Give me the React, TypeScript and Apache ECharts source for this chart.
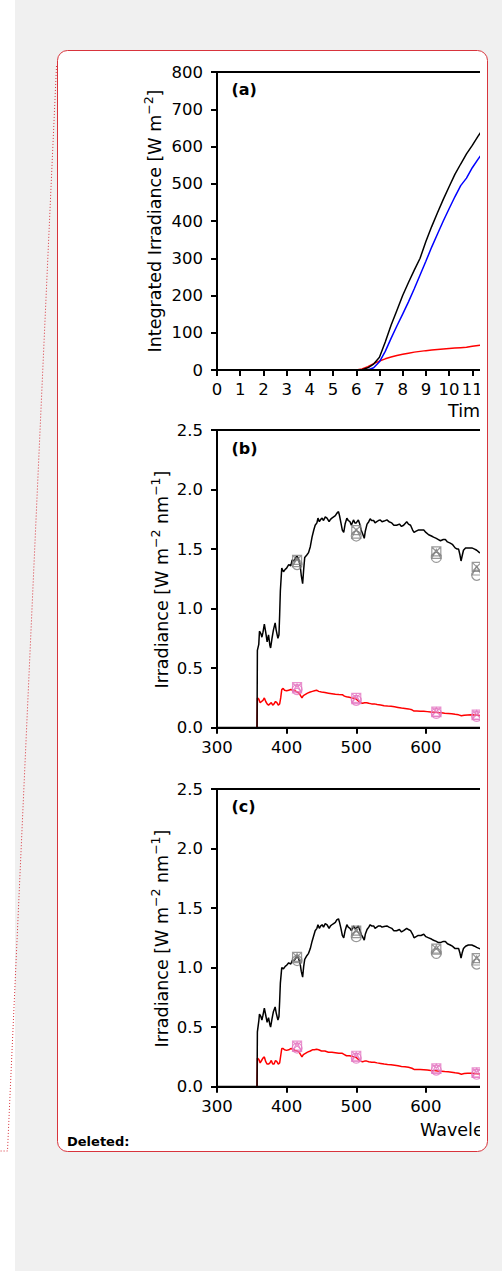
import React, { useEffect, useRef } from "react";
import * as echarts from "echarts";

const FONT = "DejaVu Sans";
const RED_EDGE = "#d8343c";

// (a) integrated irradiance over the day
const hours = [0, 1, 2, 3, 4, 5, 6, 6.25, 6.5, 6.75, 7, 7.25, 7.5, 7.75, 8, 8.25, 8.5, 8.75, 9, 9.25, 9.5, 9.75, 10, 10.25, 10.5, 10.75, 11, 11.25, 11.5, 11.75];
const integBlack = [0, 0, 0, 0, 0, 0, 0, 1, 6, 16, 34, 75, 120, 160, 200, 235, 268, 300, 345, 385, 422, 458, 492, 525, 553, 580, 603, 628, 650, 672];
const integBlue = [0, 0, 0, 0, 0, 0, 0, 0, 0, 6, 22, 50, 85, 118, 150, 183, 218, 255, 292, 330, 365, 400, 433, 465, 495, 515, 543, 566, 588, 610];
const integRed = [0, 0, 0, 0, 0, 0, 0, 3, 9, 17, 24, 30, 35, 39, 42, 45, 48, 50, 52, 53.5, 55, 56.5, 58, 59, 60, 61, 64, 66, 67, 69];

// (b), (c) spectral irradiance, black curves
const wlBlack = [
  357.5, 358, 360, 361, 363, 364.5, 366, 368, 370, 372,
  374, 376, 377, 379, 381, 383.5, 385, 387.5, 389, 390,
  391, 393, 395.5, 398, 400, 403, 406, 408, 411, 413,
  415, 417, 419.5, 421, 423, 424.5, 426, 429, 431.5, 434,
  436.5, 439, 441, 443.5, 445, 447, 449, 451, 453, 455.5,
  458, 461, 463, 465, 467.5, 470, 472, 474.5, 476, 478,
  480, 482, 484, 486.5, 488.5, 491, 493, 496, 498, 500,
  503, 505, 507, 509, 511.5, 513, 515.5, 518, 520, 522,
  525, 527, 529.5, 532, 534.5, 537, 540, 544, 547, 551,
  554, 558, 562, 565, 568, 572.5, 575, 578, 581, 583,
  586, 589, 593, 597, 600, 604, 608, 611, 615, 618,
  621, 625, 628, 631, 635, 638, 642, 645, 647, 649,
  650.5, 652, 654, 657, 661, 666, 670, 673, 677, 682,
  688,
];
const specBlackB = [
  0, 0.65, 0.7, 0.81, 0.79, 0.76, 0.8, 0.87, 0.8, 0.72,
  0.78, 0.69, 0.67, 0.75, 0.82, 0.88, 0.82, 0.75, 0.78, 0.95,
  1.15, 1.34, 1.31, 1.33, 1.34, 1.37, 1.36, 1.41, 1.4, 1.43,
  1.44, 1.42, 1.36, 1.28, 1.21, 1.33, 1.43, 1.45, 1.47, 1.52,
  1.6, 1.66, 1.7, 1.72, 1.76, 1.73, 1.75, 1.76, 1.74, 1.77,
  1.76, 1.73, 1.75, 1.76, 1.77, 1.78, 1.8, 1.815, 1.78, 1.72,
  1.66, 1.64, 1.71, 1.76, 1.74, 1.73, 1.7, 1.745, 1.72, 1.72,
  1.745, 1.71, 1.66, 1.63, 1.59, 1.65, 1.71, 1.73, 1.755, 1.74,
  1.74, 1.72, 1.73, 1.74, 1.745, 1.73, 1.735, 1.745, 1.73, 1.72,
  1.7, 1.7, 1.71, 1.69, 1.7, 1.73, 1.71, 1.7, 1.66, 1.64,
  1.65, 1.66, 1.66, 1.66, 1.64, 1.62, 1.61, 1.6, 1.59, 1.58,
  1.57, 1.58, 1.58, 1.56, 1.55, 1.54, 1.51, 1.5, 1.5, 1.45,
  1.4, 1.44, 1.49, 1.51, 1.51, 1.51, 1.5, 1.49, 1.47, 1.46,
  1.45,
];
const specBlackC = [
  0, 0.46, 0.55, 0.61, 0.59, 0.56, 0.6, 0.66, 0.6, 0.54,
  0.58, 0.52, 0.5, 0.57, 0.63, 0.67, 0.62, 0.56, 0.59, 0.72,
  0.87, 1.0, 0.99, 1.01, 1.02, 1.04, 1.03, 1.06, 1.06, 1.08,
  1.09, 1.08, 1.03, 0.97, 0.92, 1.01, 1.07, 1.1, 1.12, 1.16,
  1.22, 1.27, 1.31, 1.33, 1.36, 1.33, 1.35, 1.36, 1.34, 1.37,
  1.36, 1.33, 1.35, 1.36, 1.37, 1.38, 1.4, 1.41, 1.38, 1.33,
  1.27, 1.25, 1.31, 1.36, 1.34, 1.33, 1.31, 1.35, 1.33, 1.33,
  1.35, 1.32, 1.28, 1.26, 1.23, 1.28, 1.32, 1.34, 1.36, 1.35,
  1.35, 1.33, 1.34, 1.35, 1.35, 1.34, 1.345, 1.35, 1.34, 1.33,
  1.31, 1.31, 1.32, 1.3, 1.31, 1.33, 1.32, 1.31, 1.28, 1.25,
  1.26, 1.27, 1.27, 1.28, 1.26, 1.25, 1.24, 1.23, 1.22, 1.21,
  1.21, 1.22, 1.22, 1.2, 1.19, 1.18, 1.16, 1.16, 1.16, 1.12,
  1.08, 1.12, 1.16, 1.18, 1.19, 1.19, 1.18, 1.17, 1.16, 1.15,
  1.14,
];

// (b), (c) spectral irradiance, red curves
const wlRed = [
  357.5, 358, 360, 362, 364, 366, 368, 370, 372, 374,
  376, 378, 380, 382, 384, 386, 388, 390, 391.5, 393,
  395, 397, 400, 403, 406, 409, 412, 415, 418, 420,
  422, 424, 427, 430, 434, 437, 440, 443, 446, 450,
  455, 460, 465, 470, 475, 480, 483, 486, 490, 494,
  497, 500, 503, 506, 509, 512, 515, 518, 522, 526,
  530, 535, 540, 545, 550, 555, 560, 565, 570, 575,
  580, 583, 587, 592, 597, 602, 607, 612, 617, 622,
  627, 632, 637, 642, 647, 651, 655, 660, 665, 670,
  675, 680, 686,
];
const specRedB = [
  0, 0.25, 0.24, 0.21, 0.22, 0.23, 0.25, 0.22, 0.2, 0.19,
  0.2, 0.21, 0.19, 0.2, 0.22, 0.21, 0.19, 0.2, 0.25, 0.32,
  0.33, 0.315, 0.31, 0.315, 0.32, 0.315, 0.31, 0.3, 0.29, 0.27,
  0.25, 0.27, 0.28, 0.29, 0.3, 0.305, 0.31, 0.315, 0.305, 0.3,
  0.295, 0.29, 0.285, 0.28, 0.278, 0.277, 0.265, 0.26, 0.255, 0.25,
  0.248, 0.24, 0.225, 0.21, 0.205, 0.21, 0.21, 0.205, 0.2, 0.2,
  0.195, 0.19, 0.185, 0.182, 0.18, 0.175, 0.17, 0.165, 0.162, 0.158,
  0.15, 0.14, 0.14, 0.139, 0.138, 0.135, 0.132, 0.13, 0.127, 0.125,
  0.122, 0.12, 0.117, 0.112, 0.108, 0.1, 0.105, 0.107, 0.108, 0.106,
  0.104, 0.103, 0.102,
];
const specRedC = [
  0, 0.24, 0.23, 0.2, 0.22, 0.24, 0.25, 0.21, 0.19, 0.19,
  0.2, 0.22, 0.19, 0.19, 0.22, 0.21, 0.19, 0.2, 0.26, 0.32,
  0.32, 0.31, 0.305, 0.31, 0.32, 0.315, 0.305, 0.3, 0.29, 0.27,
  0.25, 0.27, 0.28, 0.29, 0.3, 0.31, 0.31, 0.315, 0.31, 0.3,
  0.3, 0.29, 0.29, 0.285, 0.28, 0.28, 0.27, 0.26, 0.26, 0.255,
  0.25, 0.245, 0.23, 0.215, 0.21, 0.215, 0.215, 0.21, 0.205, 0.205,
  0.2, 0.195, 0.19, 0.187, 0.185, 0.18, 0.175, 0.17, 0.167, 0.163,
  0.155, 0.145, 0.145, 0.144, 0.143, 0.14, 0.137, 0.135, 0.132, 0.13,
  0.127, 0.125, 0.122, 0.117, 0.113, 0.105, 0.11, 0.112, 0.112, 0.11,
  0.108, 0.107, 0.106,
];

// filter-radiometer channels
const filterWl = [415, 500, 615, 673];
const grayCircleB = [1.37, 1.61, 1.43, 1.28];
const grayTriB = [1.39, 1.63, 1.46, 1.32];
const graySqB = [1.41, 1.66, 1.48, 1.35];
const pinkCircleB = [0.32, 0.23, 0.12, 0.095];
const pinkTriB = [0.33, 0.24, 0.13, 0.105];
const pinkSqB = [0.34, 0.25, 0.135, 0.11];
const grayCircleC = [1.06, 1.26, 1.12, 1.03];
const grayTriC = [1.08, 1.29, 1.15, 1.06];
const graySqC = [1.09, 1.31, 1.16, 1.08];
const pinkCircleC = [0.325, 0.24, 0.14, 0.105];
const pinkTriC = [0.335, 0.25, 0.15, 0.115];
const pinkSqC = [0.345, 0.26, 0.155, 0.12];

const hourTicks = { min: 0, max: 24, interval: 1 };
const wlTicks = { min: 300, max: 1100, interval: 100 };
const integTicks = { min: 0, max: 800, interval: 100 };
const specTicks = { min: 0, max: 2.5, interval: 0.5 };

const GRAY = "#7f7f7f";
const PINK = "#e377c2";
const SQ_X = "path://M0 0H10V10H0ZM0 0L10 10M10 0L0 10";

const zip = (xs: number[], ys: number[]) => xs.map((x, i) => [x, ys[i]]);

const tickFont = { fontFamily: FONT, fontSize: 16.5, color: "#000" };
const LABEL_SIZE = 17.5;

function xAxisOf(ticks: any, gridIndex: number) {
  return {
    type: "value",
    gridIndex,
    ...ticks,
    z: 6,
    axisLine: { show: true, onZero: false, lineStyle: { color: "#000", width: 2 } },
    axisTick: { show: true, length: 6, lineStyle: { color: "#000", width: 2 } },
    axisLabel: { ...tickFont, margin: 11 },
    splitLine: { show: false },
  };
}

function yAxisOf(ticks: any, gridIndex: number, decimals: number) {
  return {
    type: "value",
    gridIndex,
    ...ticks,
    z: 6,
    axisLine: { show: true, onZero: false, lineStyle: { color: "#000", width: 2 } },
    axisTick: { show: true, length: 6, lineStyle: { color: "#000", width: 2 } },
    axisLabel: { ...tickFont, margin: 14, formatter: (v: number) => v.toFixed(decimals) },
    splitLine: { show: false },
  };
}

function lineSeries(data: number[][], color: string, idx: number) {
  return {
    type: "line",
    xAxisIndex: idx,
    yAxisIndex: idx,
    data,
    symbol: "none",
    showSymbol: false,
    silent: true,
    clip: true,
    lineStyle: { color, width: 1.5 },
    itemStyle: { color },
    z: 3,
  };
}

function markSeries(ys: number[], symbol: string, color: string, idx: number, size: number) {
  return {
    type: "scatter",
    xAxisIndex: idx,
    yAxisIndex: idx,
    data: zip(filterWl, ys),
    symbol,
    symbolSize: size,
    silent: true,
    itemStyle: { color: "rgba(0,0,0,0)", borderColor: color, borderWidth: 1.2 },
    z: 4,
  };
}

const GRID_H = 297.7;
const grids = [
  { left: 159, top: 21, width: 557, height: 298 },
  { left: 159, top: 379, width: 557, height: GRID_H },
  { left: 159, top: 738, width: 557, height: GRID_H },
].map((g) => ({ ...g, show: true, borderColor: "#000", borderWidth: 2, backgroundColor: "transparent" }));

const panelLabel = (text: string, y: number) => ({
  type: "text",
  x: 173.5,
  y,
  silent: true,
  style: { text, fontFamily: FONT, fontSize: 16, fontWeight: "bold", fill: "#000", verticalAlign: "middle", align: "left" },
});

const xName = (text: string, x: number, y: number) => ({
  type: "text",
  x,
  y,
  silent: true,
  style: { text, fontFamily: FONT, fontSize: LABEL_SIZE, fill: "#000", verticalAlign: "middle", align: "left" },
});

// rotated y-axis title with raised exponents
const supRich = {
  n: { fontFamily: FONT, fontSize: LABEL_SIZE, fill: "#000", verticalAlign: "bottom", padding: [4, 0, 0, 0] },
  s: { fontFamily: FONT, fontSize: 12.5, fill: "#000", verticalAlign: "top" },
};
const yName = (text: string, x: number, y: number) => ({
  type: "text",
  x,
  y,
  rotation: Math.PI / 2,
  silent: true,
  style: { text, rich: supRich, fill: "#000", align: "center", verticalAlign: "middle" },
});

const chartOption = {
  animation: false,
  grid: grids,
  xAxis: [xAxisOf(hourTicks, 0), xAxisOf(wlTicks, 1), xAxisOf(wlTicks, 2)],
  yAxis: [yAxisOf(integTicks, 0, 0), yAxisOf(specTicks, 1, 1), yAxisOf(specTicks, 2, 1)],
  series: [
    lineSeries(zip(hours, integRed), "#ff0000", 0),
    lineSeries(zip(hours, integBlue), "#0000ff", 0),
    lineSeries(zip(hours, integBlack), "#000000", 0),

    lineSeries(zip(wlRed, specRedB), "#ff0000", 1),
    lineSeries(zip(wlBlack, specBlackB), "#000000", 1),
    markSeries(grayCircleB, "circle", GRAY, 1, 10),
    markSeries(grayTriB, "triangle", GRAY, 1, 9),
    markSeries(graySqB, SQ_X, GRAY, 1, 9),
    markSeries(pinkCircleB, "circle", PINK, 1, 10),
    markSeries(pinkTriB, "triangle", PINK, 1, 9),
    markSeries(pinkSqB, SQ_X, PINK, 1, 9),

    lineSeries(zip(wlRed, specRedC), "#ff0000", 2),
    lineSeries(zip(wlBlack, specBlackC), "#000000", 2),
    markSeries(grayCircleC, "circle", GRAY, 2, 10),
    markSeries(grayTriC, "triangle", GRAY, 2, 9),
    markSeries(graySqC, SQ_X, GRAY, 2, 9),
    markSeries(pinkCircleC, "circle", PINK, 2, 10),
    markSeries(pinkTriC, "triangle", PINK, 2, 9),
    markSeries(pinkSqC, SQ_X, PINK, 2, 9),
  ],
  graphic: [
    panelLabel("(a)", 38.5),
    panelLabel("(b)", 397),
    panelLabel("(c)", 755),
    xName("Time [UTC]", 390, 359.5),
    xName("Wavelength [nm]", 362, 1078.7),
    yName("{n|Integrated Irradiance [W m}{s|−2}{n|]}", 95.3, 170),
    yName("{n|Irradiance [W m}{s|−2}{n| nm}{s|−1}{n|]}", 101.7, 528.5),
    yName("{n|Irradiance [W m}{s|−2}{n| nm}{s|−1}{n|]}", 101.7, 887.5),
  ],
};

const pageOption = {
  animation: false,
  graphic: [
    { type: "rect", shape: { x: 0, y: 0, width: 502, height: 1271 }, style: { fill: "#ffffff" }, silent: true },
    { type: "rect", shape: { x: 15, y: 0, width: 487, height: 1271 }, style: { fill: "#f0f0f0" }, silent: true },
    {
      type: "polyline",
      shape: { points: [[56.5, 66], [7.5, 1151], [0, 1151]] },
      style: { stroke: RED_EDGE, lineWidth: 1, lineDash: [1, 2], fill: null },
      silent: true,
    },
    {
      type: "rect",
      shape: { x: 57.5, y: 50.5, width: 430, height: 1101, r: 10 },
      style: { fill: "#ffffff", stroke: RED_EDGE, lineWidth: 1 },
      silent: true,
    },
    {
      type: "text",
      x: 67,
      y: 1141,
      style: { text: "Deleted:", fontFamily: FONT, fontSize: 13, fontWeight: "bold", fill: "#000", verticalAlign: "middle", align: "left" },
      silent: true,
    },
  ],
};

export default function App() {
  const pageRef = useRef<HTMLDivElement>(null);
  const chartRef = useRef<HTMLDivElement>(null);

  useEffect(() => {
    const page = echarts.init(pageRef.current!, undefined, { renderer: "svg" });
    page.setOption(pageOption as any);
    const chart = echarts.init(chartRef.current!, undefined, { renderer: "svg" });
    chart.setOption(chartOption as any);
    return () => {
      page.dispose();
      chart.dispose();
    };
  }, []);

  return (
    <div style={{ position: "absolute", left: 0, top: 0, width: 502, height: 1271, overflow: "hidden" }}>
      <div ref={pageRef} style={{ position: "absolute", left: 0, top: 0, width: 502, height: 1271 }} />
      <div style={{ position: "absolute", left: 58, top: 51, width: 422, height: 1100, overflow: "hidden" }}>
        <div ref={chartRef} style={{ width: 760, height: 1100 }} />
      </div>
    </div>
  );
}
